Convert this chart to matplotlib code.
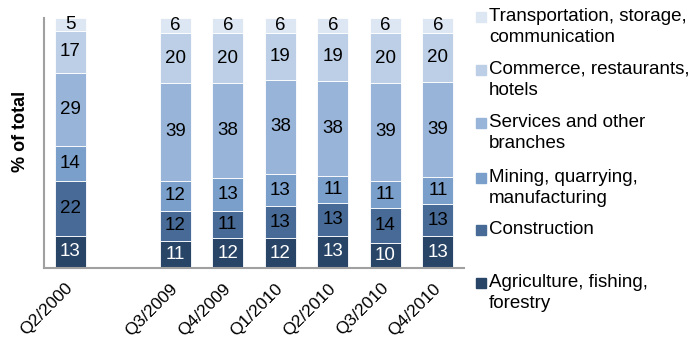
import numpy as np
import matplotlib.pyplot as plt
import matplotlib.transforms as mtrans

plt.rcParams['font.family'] = ['Liberation Sans', 'DejaVu Sans']

# quarters (Q2/2000 is set apart from the rest)
quarters = ['Q2/2000', 'Q3/2009', 'Q4/2009', 'Q1/2010', 'Q2/2010', 'Q3/2010', 'Q4/2010']
xpos = [0, 2, 3, 4, 5, 6, 7]

# sector shares, % of total (bottom to top)
agriculture = [13, 11, 12, 12, 13, 10, 13]
construction = [22, 12, 11, 13, 13, 14, 13]
mining = [14, 12, 13, 13, 11, 11, 11]
services = [29, 39, 38, 38, 38, 39, 39]
commerce = [17, 20, 20, 19, 19, 20, 20]
transport = [5, 6, 6, 6, 6, 6, 6]

series = [agriculture, construction, mining, services, commerce, transport]
names = ['Agriculture, fishing,\nforestry', 'Construction',
         'Mining, quarrying,\nmanufacturing', 'Services and other\nbranches',
         'Commerce, restaurants,\nhotels', 'Transportation, storage,\ncommunication']
colors = ['#284466', '#476b96', '#7a9fcb', '#98b4d8', '#bccfe6', '#dde7f3']
textcol = ['white', 'black', 'black', 'black', 'black', 'black']

fig = plt.figure(figsize=(6.98, 3.41), dpi=100)
ax = fig.add_axes([0.063, 0.214, 0.602, 0.733])

vals = np.array(series, dtype=float)
totals = vals.sum(axis=0)
shares = vals / totals * 100  # 100% stacked

bottom = np.zeros(len(quarters))
for i in range(len(series)):
    ax.bar(xpos, shares[i], 0.59, bottom=bottom, color=colors[i],
           edgecolor='white', linewidth=0.6)
    for j in range(len(quarters)):
        ax.text(xpos[j], bottom[j] + shares[i][j] / 2, str(series[i][j]),
                ha='center', va='center', fontsize=13.5, color=textcol[i])
    bottom += shares[i]

ax.set_xlim(-0.5, 7.5)
ax.set_ylim(0, 100)
ax.set_xticks(xpos)
ax.set_xticklabels(quarters, rotation=45, ha='right', fontsize=12.6)
ax.tick_params(axis='x', length=0, pad=9)
shift = mtrans.ScaledTranslation(4 / 72, 0, fig.dpi_scale_trans)
for lab in ax.get_xticklabels():
    lab.set_transform(lab.get_transform() + shift)
ax.set_yticks([])
for s in ['top', 'right']:
    ax.spines[s].set_visible(False)
for s in ['left', 'bottom']:
    ax.spines[s].set_color('#a0a0a0')
    ax.spines[s].set_linewidth(1.5)
ax.set_ylabel('% of total', fontsize=13, fontweight='bold')
ax.yaxis.set_label_coords(-0.036, 0.545)

# legend, top entry first
ys = [17, 70, 123, 178, 230, 283]
for k, y in enumerate(ys):
    i = len(series) - 1 - k
    fy = 1 - y / 341
    fig.patches.append(plt.Rectangle((476 / 698, fy - 5 / 341), 10 / 698, 10 / 341,
                                     transform=fig.transFigure, color=colors[i]))
    fig.text(489 / 698, fy + 9 / 341, names[i], ha='left', va='top', fontsize=13.5,
             linespacing=1.3)

fig.savefig('out.png', dpi=100)
